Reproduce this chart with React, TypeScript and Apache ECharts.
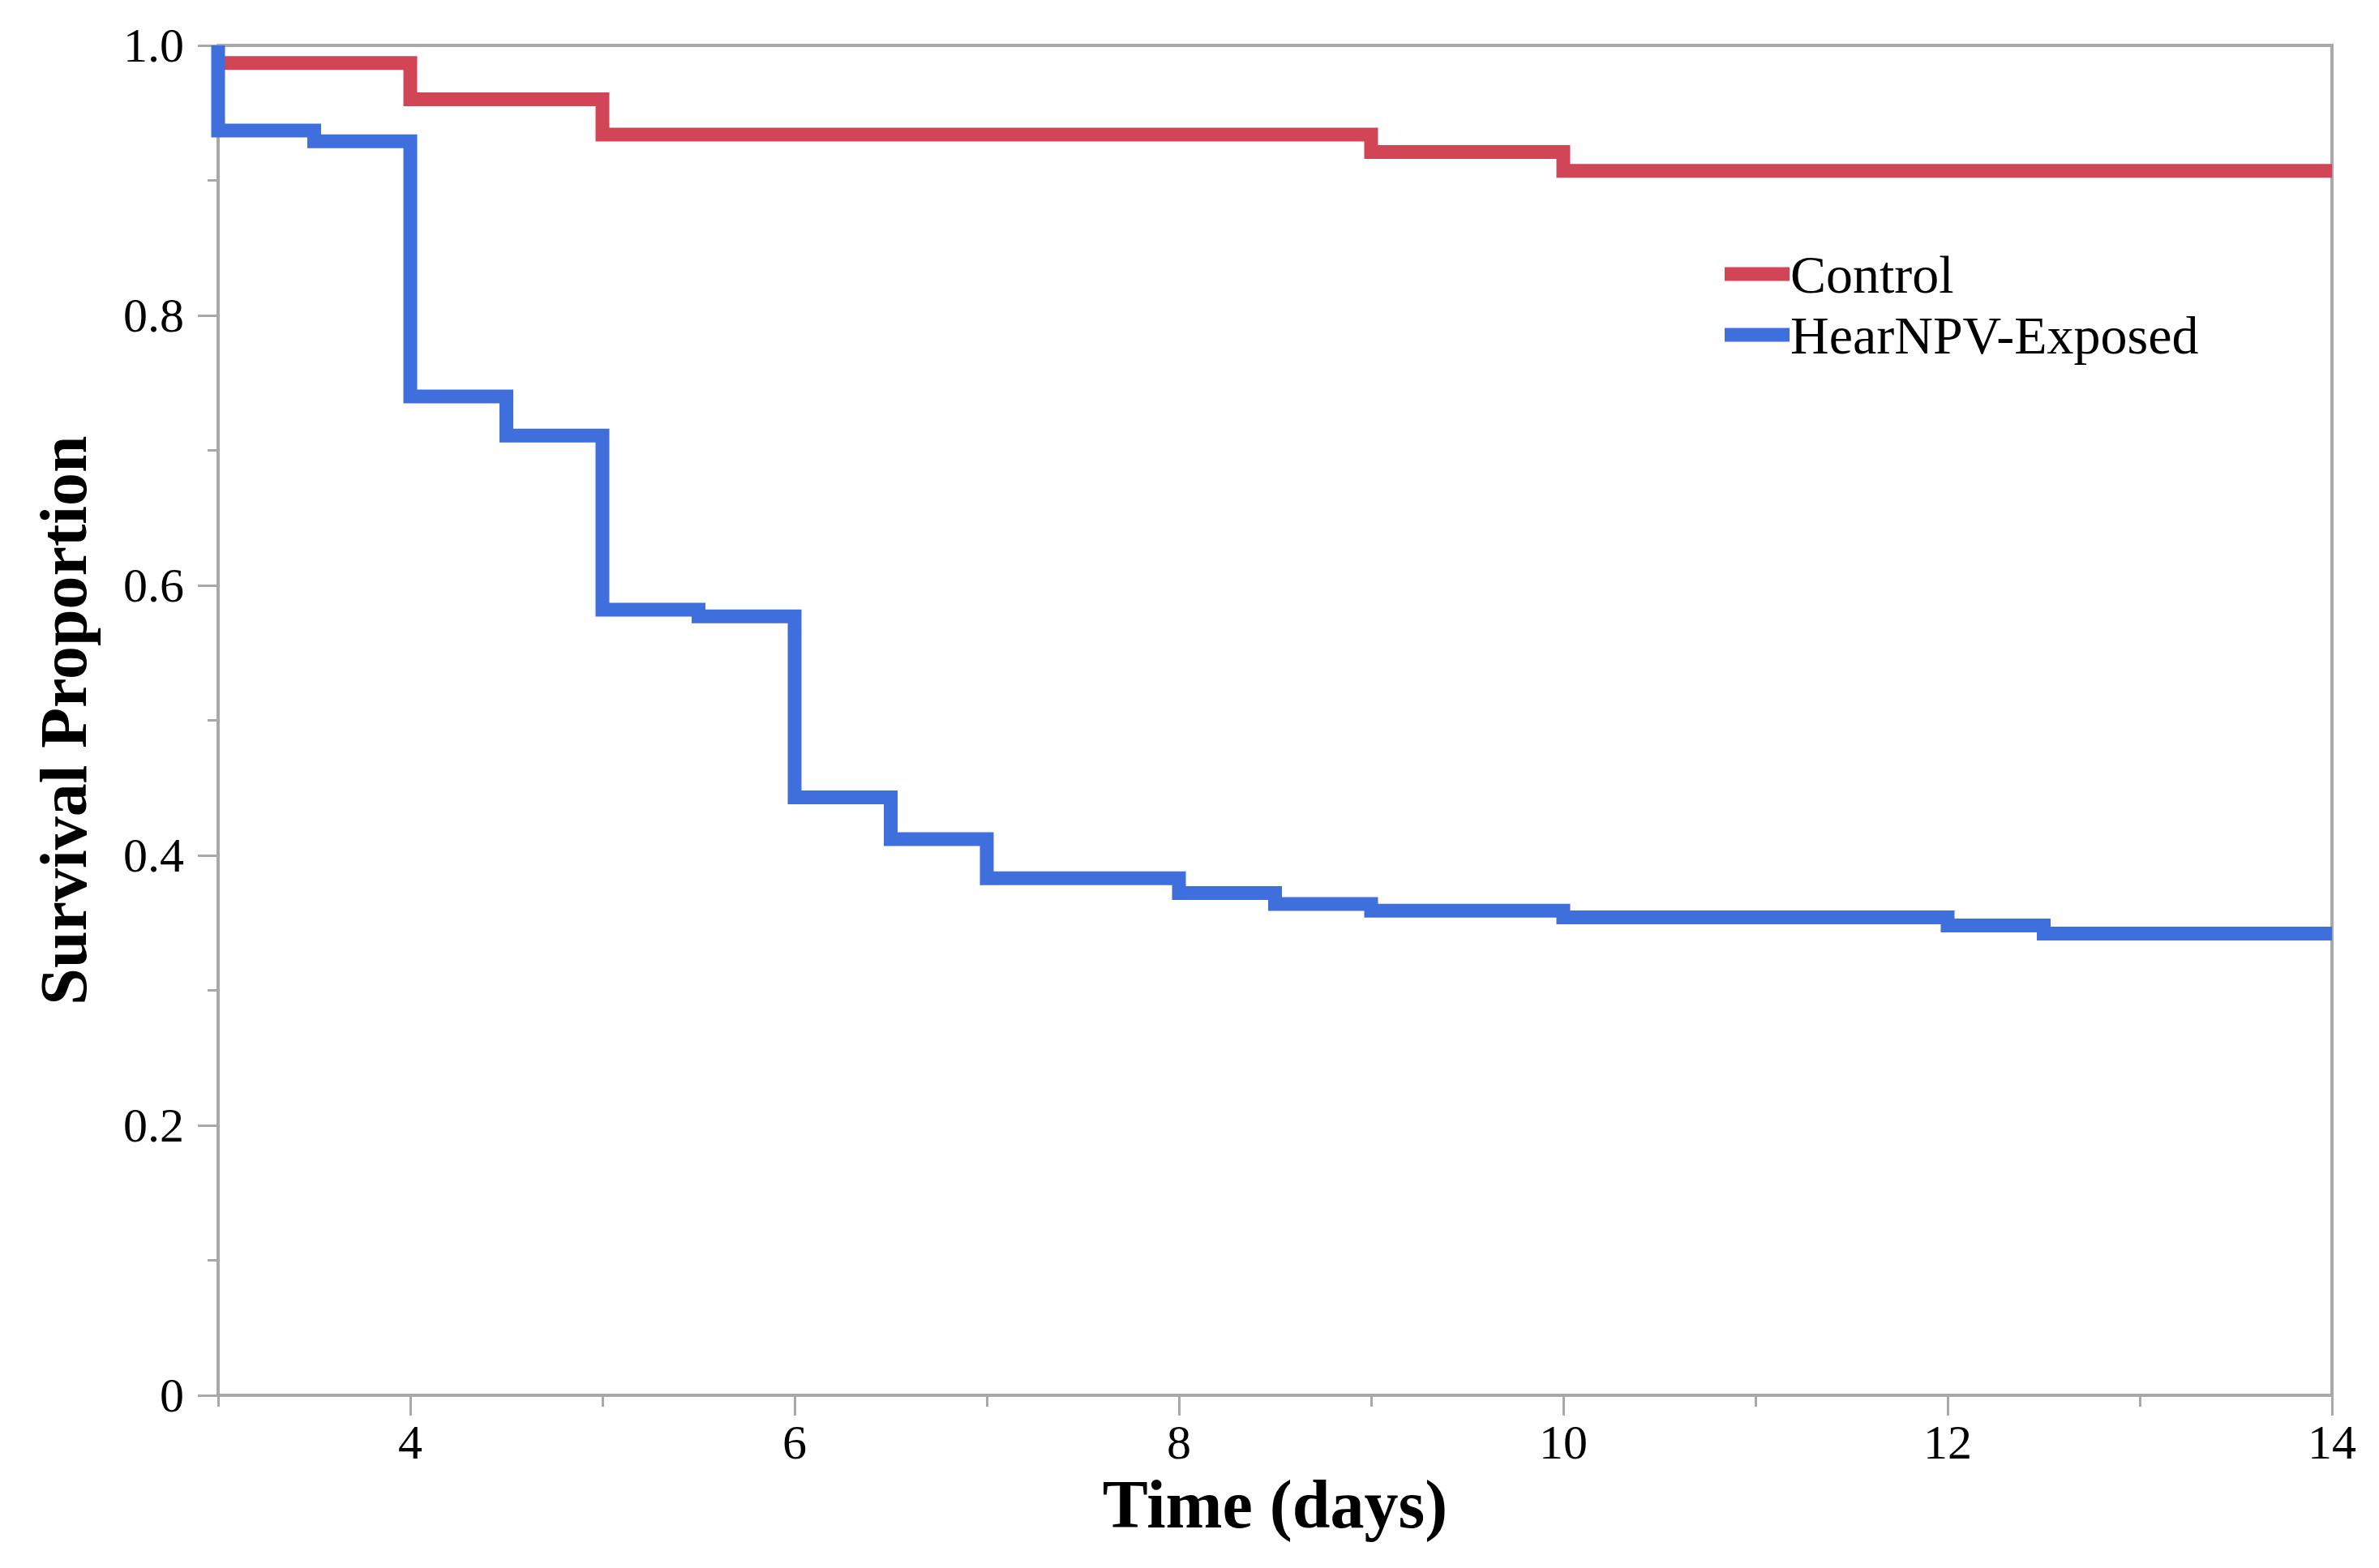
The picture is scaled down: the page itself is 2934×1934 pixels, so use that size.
import React, { useEffect, useRef } from "react";
import * as echarts from "echarts";

const controlTimes = [3, 4, 5, 9, 10, 14];
const controlSurvival = [0.987, 0.96, 0.934, 0.921, 0.907, 0.907];

const exposedTimes = [3, 3, 3.5, 4, 4.5, 5, 5.5, 6, 6.5, 7, 8, 8.5, 9, 10, 12, 12.5, 14];
const exposedSurvival = [1.0, 0.937, 0.929, 0.74, 0.711, 0.582, 0.577, 0.443, 0.412, 0.383, 0.372, 0.364, 0.359, 0.354, 0.348, 0.342, 0.342];

const xMajorTicks = [4, 6, 8, 10, 12, 14];
const xMinorTicks = [3, 5, 7, 9, 11, 13];

const seriesNames = ["Control", "HearNPV-Exposed"];
const seriesColors = ["#d24556", "#3e6fdc"];

const FONT = "'Liberation Serif', 'Times New Roman', serif";
const AXIS_COLOR = "#a9a9a9";

export default function App() {
  const ref = useRef<HTMLDivElement>(null);

  useEffect(() => {
    if (!ref.current) return;
    const chart = echarts.init(ref.current, undefined, { renderer: "svg" });
    const toPairs = (xs: number[], ys: number[]) => xs.map((x, i) => [x, ys[i]]);

    const option: any = {
      animation: false,
      backgroundColor: "#ffffff",
      grid: {
        left: 269,
        right: 58,
        top: 56,
        bottom: 213,
        show: true,
        borderColor: AXIS_COLOR,
        borderWidth: 4,
        backgroundColor: "transparent",
      },
      legend: {
        orient: "vertical",
        left: 2122,
        top: 300,
        itemWidth: 80,
        itemHeight: 17,
        itemGap: 9,
        icon: "rect",
        data: seriesNames,
        textStyle: { fontFamily: FONT, fontSize: 66, color: "#000", padding: [0, 0, 0, -4] },
      },
      xAxis: [
        {
          type: "value",
          min: 3,
          max: 14,
          name: "Time (days)",
          nameLocation: "middle",
          nameGap: 92,
          nameTextStyle: { fontFamily: FONT, fontSize: 84, fontWeight: "bold", color: "#000" },
          axisLine: { show: true, lineStyle: { color: AXIS_COLOR, width: 4 } },
          axisTick: { show: true, customValues: xMajorTicks, length: 25, lineStyle: { color: AXIS_COLOR, width: 3 } },
          axisLabel: {
            customValues: xMajorTicks,
            margin: 28,
            fontFamily: FONT,
            fontSize: 60,
            color: "#000",
          },
          splitLine: { show: false },
        },
        {
          type: "value",
          min: 3,
          max: 14,
          position: "bottom",
          axisLine: { show: false },
          axisTick: { show: true, customValues: xMinorTicks, length: 14, lineStyle: { color: AXIS_COLOR, width: 3 } },
          axisLabel: { show: false },
          splitLine: { show: false },
        },
      ],
      yAxis: {
        type: "value",
        min: 0,
        max: 1,
        interval: 0.2,
        name: "Survival Proportion",
        nameLocation: "middle",
        nameGap: 150,
        nameTextStyle: { fontFamily: FONT, fontSize: 82, fontWeight: "bold", color: "#000" },
        axisLine: { show: true, lineStyle: { color: AXIS_COLOR, width: 4 } },
        axisTick: { show: true, length: 25, lineStyle: { color: AXIS_COLOR, width: 3 } },
        minorTick: { show: true, splitNumber: 2, length: 13, lineStyle: { color: AXIS_COLOR, width: 3 } },
        axisLabel: {
          margin: 42,
          fontFamily: FONT,
          fontSize: 60,
          color: "#000",
          formatter: (v: number) => (v === 0 ? "0" : v.toFixed(1)),
        },
        splitLine: { show: false },
        minorSplitLine: { show: false },
      },
      series: [
        {
          name: seriesNames[0],
          type: "line",
          step: "end",
          xAxisIndex: 0,
          data: toPairs(controlTimes, controlSurvival),
          showSymbol: false,
          symbol: "none",
          color: seriesColors[0],
          lineStyle: { color: seriesColors[0], width: 17, join: "miter", cap: "butt" },
          clip: true,
        },
        {
          name: seriesNames[1],
          type: "line",
          step: "end",
          xAxisIndex: 0,
          data: toPairs(exposedTimes, exposedSurvival),
          showSymbol: false,
          symbol: "none",
          color: seriesColors[1],
          lineStyle: { color: seriesColors[1], width: 17, join: "miter", cap: "butt" },
          clip: true,
        },
      ],
    };

    chart.setOption(option);
    return () => chart.dispose();
  }, []);

  return (
    <div
      ref={ref}
      style={{ position: "absolute", left: 0, top: 0, width: 2934, height: 1934, background: "#fff" }}
    />
  );
}
